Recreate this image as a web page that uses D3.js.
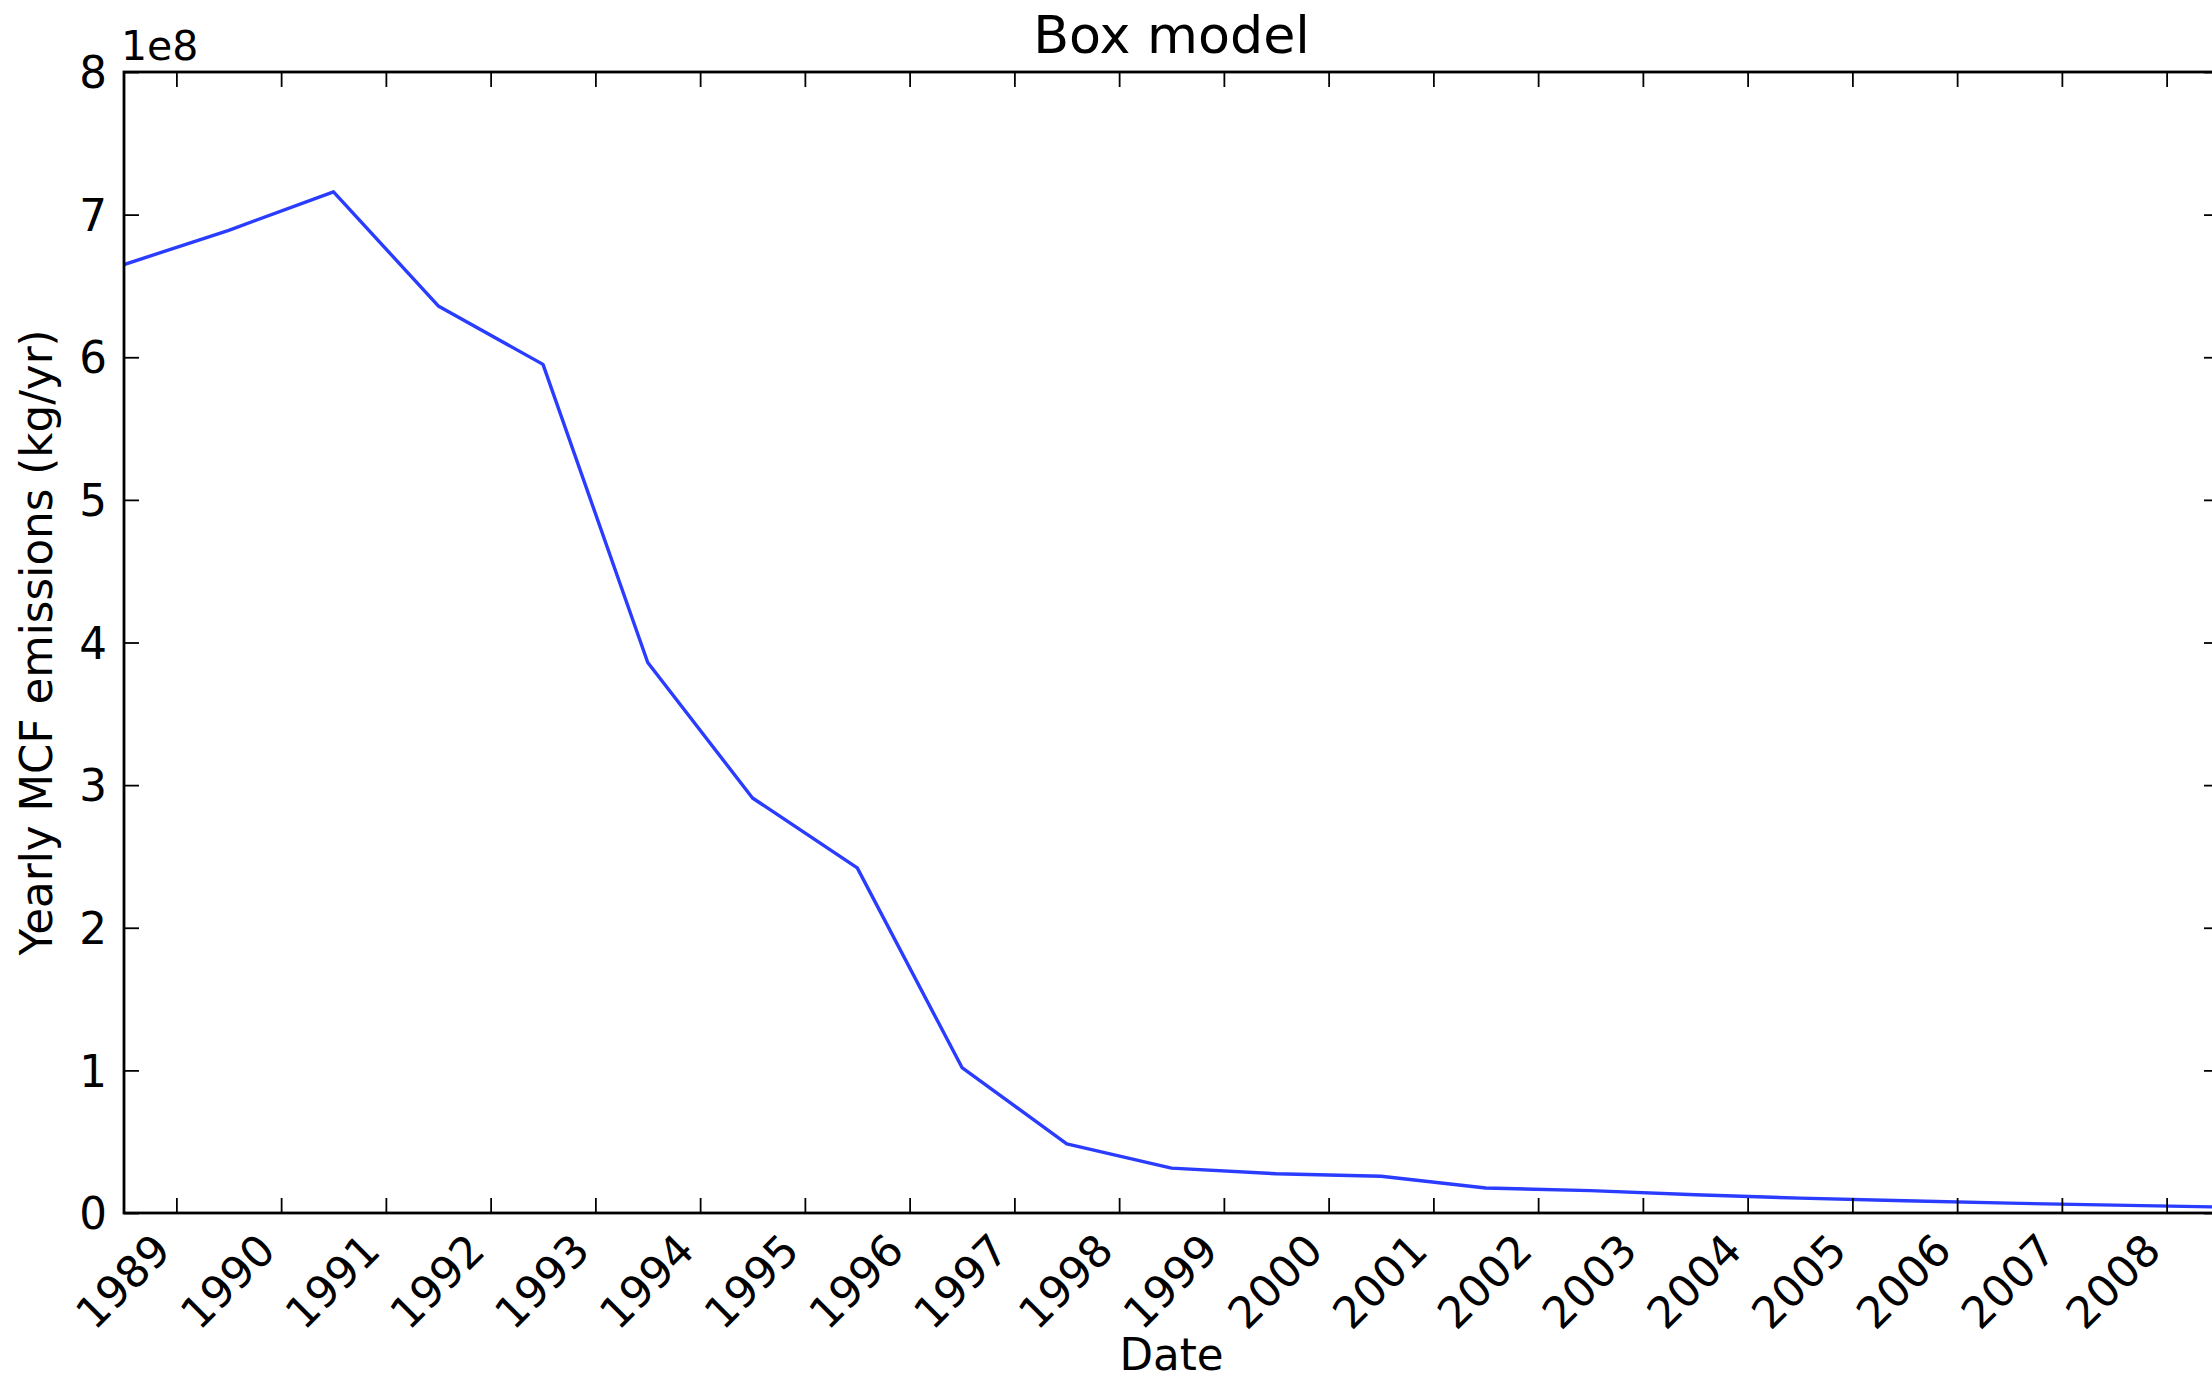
<!DOCTYPE html>
<html lang="en">
<head>
    <meta charset="UTF-8">
    <title>Box model</title>
    <script src="https://d3js.org/d3.v7.min.js"></script>
    <style>
        body {
            margin: 0;
            padding: 0;
            overflow: hidden;
            background-color: #fff;
        }
        text {
            font-family: "DejaVu Sans", sans-serif;
            fill: #000;
        }
    </style>
</head>
<body>
    <div id="chart"></div>
    <script>
        // Data (mid-year points), values in kg/yr
        const years = [1988.5, 1989.5, 1990.5, 1991.5, 1992.5, 1993.5, 1994.5,
                       1995.5, 1996.5, 1997.5, 1998.5, 1999.5, 2000.5, 2001.5,
                       2002.5, 2003.5, 2004.5, 2005.5, 2006.5, 2007.5, 2008.5];
        const emissions = [6.65e8, 6.89e8, 7.16e8, 6.36e8, 5.95e8, 3.86e8, 2.91e8,
                           2.42e8, 1.02e8, 0.485e8, 0.315e8, 0.275e8, 0.258e8, 0.175e8,
                           0.157e8, 0.128e8, 0.104e8, 0.086e8, 0.069e8, 0.055e8, 0.042e8];
        const xTicks = [1989, 1990, 1991, 1992, 1993, 1994, 1995, 1996, 1997, 1998,
                        1999, 2000, 2001, 2002, 2003, 2004, 2005, 2006, 2007, 2008];
        const yTicks = [0, 1e8, 2e8, 3e8, 4e8, 5e8, 6e8, 7e8, 8e8];

        const width = 2212;
        const height = 1384;
        const m = { left: 124, right: 2219, top: 72, bottom: 1213 };
        const tickLen = 15;
        const fontSize = 43.6;

        const svg = d3.select("#chart")
            .append("svg")
            .attr("width", width)
            .attr("height", height);

        svg.append("rect")
            .attr("width", width)
            .attr("height", height)
            .attr("fill", "#fff");

        const x = d3.scaleLinear()
            .domain([1988.5, 2008.5])
            .range([m.left, m.right]);

        const y = d3.scaleLinear()
            .domain([0, 8e8])
            .range([m.bottom, m.top]);

        svg.append("clipPath")
            .attr("id", "clip")
            .append("rect")
            .attr("x", m.left)
            .attr("y", m.top)
            .attr("width", m.right - m.left)
            .attr("height", m.bottom - m.top);

        // Line
        const line = d3.line()
            .x((d, i) => x(years[i]))
            .y(d => y(d));

        svg.append("path")
            .datum(emissions)
            .attr("clip-path", "url(#clip)")
            .attr("fill", "none")
            .attr("stroke", "#2a3cff")
            .attr("stroke-width", 3.4)
            .attr("stroke-linejoin", "round")
            .attr("d", line);

        // Axes with inward ticks on all four sides
        const xBottom = svg.append("g")
            .attr("transform", `translate(0,${m.bottom})`)
            .call(d3.axisBottom(x).tickValues(xTicks).tickSize(-tickLen).tickFormat(d => d));
        const xTop = svg.append("g")
            .attr("transform", `translate(0,${m.top})`)
            .call(d3.axisTop(x).tickValues(xTicks).tickSize(-tickLen).tickFormat(""));
        const yLeft = svg.append("g")
            .attr("transform", `translate(${m.left},0)`)
            .call(d3.axisLeft(y).tickValues(yTicks).tickSize(-tickLen).tickFormat(d => d / 1e8));
        const yRight = svg.append("g")
            .attr("transform", `translate(${m.right},0)`)
            .call(d3.axisRight(y).tickValues(yTicks).tickSize(-tickLen).tickFormat(""));

        [xBottom, xTop, yLeft, yRight].forEach(g => {
            g.select(".domain").remove();
            g.selectAll(".tick line")
                .attr("stroke", "#000")
                .attr("stroke-width", 1.8);
        });

        yLeft.selectAll(".tick text")
            .attr("x", -17)
            .attr("dy", "0.36em")
            .style("font-size", fontSize + "px");

        xBottom.selectAll(".tick text")
            .attr("y", 0)
            .attr("dy", 0)
            .attr("text-anchor", "end")
            .attr("transform", "translate(-4,40) rotate(-45)")
            .style("font-size", fontSize + "px");

        // Frame
        svg.append("rect")
            .attr("x", m.left)
            .attr("y", m.top)
            .attr("width", m.right - m.left)
            .attr("height", m.bottom - m.top)
            .attr("fill", "none")
            .attr("stroke", "#000")
            .attr("stroke-width", 2.8);

        // Offset text
        svg.append("text")
            .attr("x", m.left - 3)
            .attr("y", 60)
            .style("font-size", "41px")
            .text("1e8");

        // Title
        svg.append("text")
            .attr("x", (m.left + m.right) / 2)
            .attr("y", 53)
            .attr("text-anchor", "middle")
            .style("font-size", "52.3px")
            .text("Box model");

        // Axis labels
        svg.append("text")
            .attr("x", (m.left + m.right) / 2)
            .attr("y", 1370)
            .attr("text-anchor", "middle")
            .style("font-size", fontSize + "px")
            .text("Date");

        svg.append("text")
            .attr("transform", `translate(52,${(m.top + m.bottom) / 2}) rotate(-90)`)
            .attr("text-anchor", "middle")
            .style("font-size", fontSize + "px")
            .text("Yearly MCF emissions (kg/yr)");
    </script>
</body>
</html>
